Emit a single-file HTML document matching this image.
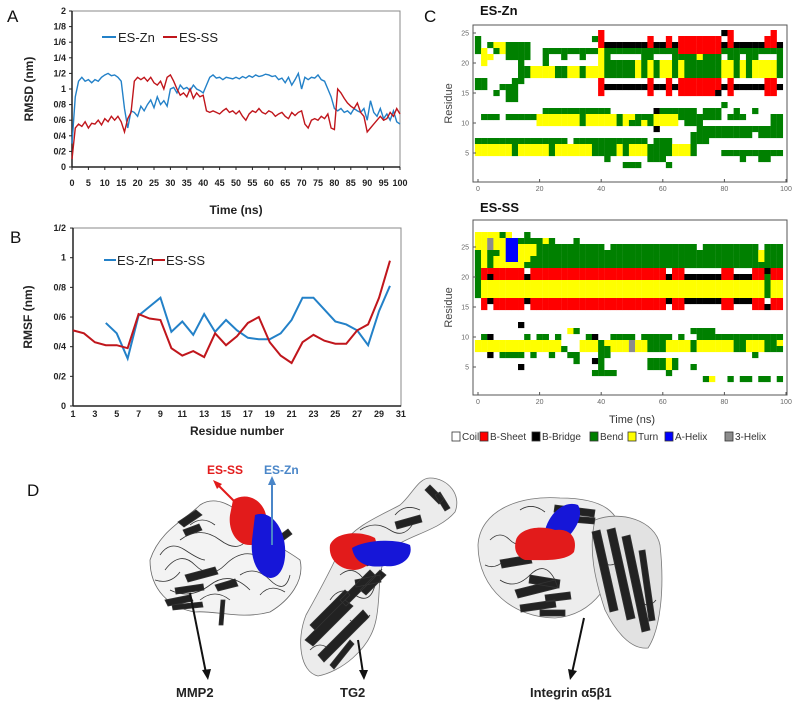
<!DOCTYPE html>
<html><head><meta charset="utf-8">
<style>
html,body{margin:0;padding:0;background:#fff;}
svg{display:block;font-family:"Liberation Sans",sans-serif;}
.tk{font-size:9px;font-weight:bold;fill:#222;}
.tc{font-size:7px;fill:#666;}
.ttl{font-size:12px;font-weight:bold;fill:#222;}
.pl{font-size:17px;fill:#111;}
</style></head>
<body>
<svg id="fig" width="796" height="704" viewBox="0 0 796 704" xmlns="http://www.w3.org/2000/svg">
<rect width="796" height="704" fill="#fff"/>
<text class="pl" x="7" y="22">A</text>
<text class="pl" x="10" y="243">B</text>
<text class="pl" x="424" y="22">C</text>
<text class="pl" x="27" y="496">D</text>

<g id="pa"></g>
<g id="pb"></g>
<g id="pc"></g>

<g id="pd">
  <!-- MMP2 -->
  <g fill="none" stroke="#333" stroke-width="0.8">
    <path d="M150 560 C160 530 185 520 200 505 C215 495 235 505 245 520 C260 540 280 545 300 560 C305 580 290 600 270 612 C240 620 215 610 195 612 C170 608 150 590 150 560Z" fill="#f3f3f3" stroke="#666"/>
    <path d="M165 570 q15 -20 30 -5 t30 0 t30 -10 M170 590 q20 10 40 -5 t40 5 M180 540 q20 -15 40 0 t30 -5 M200 600 q15 -12 30 0 M160 555 q10 -15 25 -5 t20 10 M190 525 q12 -10 25 0 M240 575 q15 -10 30 5 t20 -5 M155 580 q15 5 25 -8 M260 595 q10 -12 25 -3" />
    <path d="M178 522 l18 -12 l6 5 l-18 12z M183 530 l16 -6 l3 6 l-16 6z M185 575 l30 -8 l3 7 l-30 8z M165 600 l25 -5 l3 6 l-25 5z M215 585 l20 -6 l3 7 l-20 5z M175 588 l28 -4 l1 6 l-28 4z M172 605 l30 -3 l1 5 l-30 3z M280 535 l8 -6 l4 5 l-8 6z M225 600 l-2 25 l-4 0 l2 -25z" fill="#222"/>
  </g>
  <path d="M233 500 C245 492 262 498 266 515 C270 530 262 545 250 545 C236 545 228 530 230 515Z" fill="#e21b1b"/>
  <path d="M255 515 C268 510 280 522 284 540 C288 560 282 578 270 578 C258 576 250 560 252 540Z" fill="#1616d8"/>
  <line x1="236" y1="503" x2="217" y2="484" stroke="#e21b1b" stroke-width="2"/>
  <polygon points="213,480 222,484 217,489" fill="#e21b1b"/>
  <line x1="272" y1="545" x2="272" y2="483" stroke="#4a86c8" stroke-width="2"/>
  <polygon points="272,476 268,485 276,485" fill="#4a86c8"/>
  <text x="207" y="474" font-size="12" font-weight="bold" fill="#e21b1b">ES-SS</text>
  <text x="264" y="474" font-size="12" font-weight="bold" fill="#4a86c8">ES-Zn</text>
  <!-- TG2 -->
  <g stroke="#333" stroke-width="0.8" fill="none">
    <path d="M430 478 C448 478 462 495 455 512 C440 530 410 535 392 548 C375 565 382 592 376 620 C370 650 340 672 318 676 C300 672 296 640 306 615 C320 590 332 568 342 545 C355 525 382 515 400 505 C412 495 418 478 430 478Z" fill="#ececec" stroke="#777"/>
    <path d="M330 600 q10 -15 25 -5 t20 -10 M340 575 q12 -10 22 2 t20 -8 M310 650 q10 -10 20 0 M360 530 q15 -10 30 0 t25 -10 M395 515 q10 -12 25 -5 M350 620 q10 10 20 -5" />
    <path d="M305 640 l40 -40 l8 6 l-40 40z M318 655 l45 -45 l6 7 l-45 45z M340 600 l30 -30 l6 6 l-30 30z M360 590 l20 -20 l6 5 l-20 20z M430 485 l14 14 l-5 5 l-14 -14z M440 492 l10 16 l-5 3 l-10 -16z M395 522 l25 -7 l2 7 l-25 7z M310 625 l35 -35 l5 5 l-35 35z M355 580 l25 -5 l1 7 l-25 5z M365 560 l20 -8 l2 6 l-20 8z M330 665 l20 -25 l4 4 l-20 25z" fill="#222"/>
  </g>
  <path d="M330 545 C335 532 360 530 375 538 C380 552 372 568 355 570 C340 570 328 560 330 545Z" fill="#e21b1b"/>
  <path d="M352 548 C365 540 395 538 410 545 C414 558 400 568 385 566 C370 568 355 565 352 548Z" fill="#1616d8"/>
  <line x1="358" y1="640" x2="363" y2="673" stroke="#111" stroke-width="2"/>
  <polygon points="364,680 359,670 368,670" fill="#111"/>
  <!-- Integrin -->
  <g stroke="#333" stroke-width="0.8" fill="none">
    <path d="M478 545 C480 510 520 495 560 498 C600 498 625 510 620 545 C615 580 595 615 555 618 C515 618 478 590 478 545Z" fill="#ededed" stroke="#777"/>
    <path d="M595 520 C620 510 655 520 660 545 C665 590 660 630 648 648 C630 650 615 630 605 610 C595 580 588 550 595 520Z" fill="#e2e2e2" stroke="#777"/>
    <path d="M490 540 q10 -10 20 0 t20 -5 M500 580 q15 10 30 -5 t25 5 M485 565 q10 5 20 -5 M600 560 q10 10 20 0 M640 600 q8 10 16 0 M520 510 q12 -8 25 2" />
    <path d="M555 505 l40 5 l-1 7 l-40 -5z M560 515 l35 3 l-1 6 l-35 -3z M515 590 l40 -10 l3 8 l-40 10z M520 605 l35 -5 l1 7 l-35 5z M600 530 l18 80 l-8 2 l-18 -80z M615 528 l20 90 l-8 2 l-20 -90z M630 535 l20 95 l-8 2 l-20 -95z M645 550 l10 70 l-6 1 l-10 -70z M500 560 l30 -5 l2 8 l-30 5z M530 575 l30 5 l-1 8 l-30 -5z M545 595 l25 -3 l1 7 l-25 3z M540 610 l25 0 l0 6 l-25 0z" fill="#222"/>
  </g>
  <path d="M545 530 C550 512 565 500 578 505 C584 515 576 530 565 540 C556 548 544 545 545 530Z" fill="#1616d8"/>
  <path d="M516 540 C520 528 540 525 555 530 C570 528 578 538 574 552 C566 562 540 560 525 560 C515 556 514 548 516 540Z" fill="#e21b1b"/>
  <line x1="584" y1="618" x2="572" y2="673" stroke="#111" stroke-width="2"/>
  <polygon points="570,680 568,669 577,671" fill="#111"/>
  <line x1="190" y1="593" x2="206" y2="673" stroke="#111" stroke-width="2"/>
  <polygon points="208,680 202,670 211,669" fill="#111"/>
  <text x="176" y="697" font-size="13" font-weight="bold" fill="#222">MMP2</text>
  <text x="340" y="697" font-size="13" font-weight="bold" fill="#222">TG2</text>
  <text x="530" y="697" font-size="13" font-weight="bold" fill="#222">Integrin α5β1</text>
</g>
</svg>
<script>
// ---------- Panel A data ----------
const rmsdTimes = [];
for (let i = 0; i <= 100; i++) rmsdTimes.push(i);
const rmsdZn = [0.3,0.9,1.1,1.15,1.1,1.12,1.08,1.12,1.1,1.15,1.18,1.2,1.17,1.18,1.15,1.1,0.75,0.5,0.72,0.7,0.65,0.78,0.72,0.8,0.86,0.76,0.9,0.8,0.85,0.78,1.0,1.02,0.95,1.05,1.0,1.02,0.98,1.05,1.0,0.98,0.95,1.05,1.15,1.18,1.14,1.15,1.12,1.15,1.14,1.13,1.15,1.13,1.16,1.14,1.17,1.15,1.18,1.16,1.17,1.19,1.18,1.16,1.17,1.12,1.14,1.08,1.15,1.05,1.12,1.2,1.0,1.15,1.12,1.15,1.14,1.18,1.12,1.1,1.0,0.9,0.75,0.72,0.75,0.7,0.72,0.68,0.75,0.72,0.7,0.75,0.6,0.85,0.7,0.65,0.75,0.62,0.68,0.6,0.72,0.58,0.55];
const rmsdSS = [0.1,0.5,0.55,0.52,0.58,0.5,0.56,0.55,0.6,0.54,0.62,0.58,0.65,0.6,0.65,0.58,0.45,0.62,0.7,1.1,1.15,1.12,1.15,1.1,1.15,1.08,1.05,1.1,1.0,1.15,1.18,1.1,1.0,0.92,0.95,0.9,1.0,0.88,0.95,0.9,0.92,0.72,0.7,0.72,0.7,0.68,0.72,0.75,0.7,0.72,0.68,0.72,0.65,0.6,0.68,0.72,0.7,0.75,0.7,0.68,0.72,0.7,0.65,0.68,0.7,0.65,0.62,0.7,0.66,0.7,0.72,0.55,0.5,0.6,0.62,0.6,0.65,0.62,0.68,0.5,0.48,1.0,0.95,0.88,0.82,0.78,0.75,0.82,0.7,0.65,0.45,0.5,0.55,0.6,0.65,0.6,0.62,0.7,0.65,0.75,0.68];
const rmsdYLabels = ["0","0/2","0/4","0/6","0/8","1","1/2","1/4","1/6","1/8","2"];
const rmsdXLabels = ["0","5","10","15","20","25","30","35","40","45","50","55","60","65","70","75","80","85","90","95","100"];
// ---------- Panel B data ----------
const rmsfResZn = [4,5,6,7,8,9,10,11,12,13,14,15,16,17,18,19,20,21,22,23,24,25,26,27,28,29,30];
const rmsfZn = [0.56,0.49,0.32,0.61,0.67,0.73,0.50,0.57,0.48,0.62,0.50,0.58,0.51,0.46,0.45,0.45,0.49,0.58,0.73,0.73,0.65,0.57,0.55,0.51,0.41,0.64,0.81];
const rmsfResSS = [1,2,3,4,5,6,7,8,9,10,11,12,13,14,15,16,17,18,19,20,21,22,23,24,25,26,27,28,29,30];
const rmsfSS = [0.51,0.49,0.43,0.41,0.41,0.39,0.62,0.59,0.58,0.39,0.34,0.37,0.33,0.49,0.41,0.47,0.56,0.60,0.43,0.34,0.29,0.43,0.48,0.44,0.42,0.42,0.51,0.55,0.73,0.98];
const rmsfYLabels = ["0","0/2","0/4","0/6","0/8","1","1/2"];
const rmsfXLabels = ["1","3","5","7","9","11","13","15","17","19","21","23","25","27","29","31"];
// ---------- Panel C data (run-length rows, 2 ns per column) ----------
const dsspZnRes = [25,24,23,22,21,20,19,18,17,16,15,14,13,12,11,10,9,8,7,6,5,4,3];
const dsspZnRows = [
"20C1E19C1B1E6C1E1C",
"1S18C1S1E7C1E2C1E1C7E1C1E5C2E1C",
"1S1C1S2T4S11C1E7B1E2B1E1B7E1B1E5B2E1B",
"1S1T1C1S1T4S2C9S1T12S7E10S",
"1C2T2C4S2C1S2C1S2C1S2C1T1S5C2S3C4S1T3S1C2S1C2S3C1S",
"1C1T5C1S3C1S8C1T5S1T1S1T1S2T1S1T1S5S2T1S1T1S1T3T1S",
"7C2S4T2S2T1S2T1T5S1T1S1T1S2T1S1T1S5S2T1S1T1S1T3T1S",
"7C2S4T2S2T1S2T1T5S1T1S1T1S2T1S1T1S5S2T1S1T1S1T3T1S",
"2S4C2S12C1E7C1E2C1E1C7E1C1E5C2E1C",
"2S2C3S13C1E7B1E2B1E1B7E1B1E5B2E1B",
"3C1S1C2S13C1E7C1E2C1E1C6E1B1C1E5C2E1C",
"5C2S43C",
"40C1S9C",
"11C11S7C1B6S1C3S2C1S2C1S4C",
"1C3S1C5S7T1S5T1S2T1S2S4T7S1C3S4C2S",
"10C7T1S5T1S1T2S1T1S4T1C2S1S11C2S",
"29C1B6C14S",
"35C10S1C4S",
"15S1C12S1C3S3C3S12C",
"6T1S5T1S6T4S1T1S3T4S3T1S14C",
"6T1S5T1S6T4S1T1S3T4S3T1S4C10S",
"21C1S6C3S12C1S2C2S2C",
"24C3S4C1S18C"];
const dsspSSRes = [27,26,25,24,23,22,21,20,19,18,17,16,15,12,11,10,9,8,7,6,5,4,3];
const dsspSSRows = [
"2T2T1S1T2C1S41C",
"2T1G2T2H4S1T1S3C1S33C",
"2T1G2T2H3T11S1C14S1C9S1C3S",
"1S1T2S1T2H3T36S1T3S",
"1S1T1S2T2H2T37S1T3S",
"1S1T1S5T42S",
"1S7E1C22E1C2E6C2E3C2E1B2E",
"1S1E1B5E1B22E1B2E6B2E3B2E1S2E",
"1S46T1S2T",
"1S46T1S2T",
"1S46T1S2T",
"1C1E1B5E1B22E1B2E6B2E3B2E1C2E",
"1C1E1C5E1C22E1C2E6C2E3C2E1B2E",
"7C1B42C",
"15C1T1S18C4S11C",
"1C1S1B5C1S1C2S1C1S4C1S1B2C4S1C5S1C1S2C14S",
"14T3C3T1S4T1G2T3S4T1S6T2S3T2S1T",
"14T1S2C3T2S3T1G2T3S4T1S6T2S3T2S1S",
"2C1B1C4S1C1S2C1S2C2S3C2S23C1S4C",
"16C1S2C1B1S7C3S1T1S17C",
"7C1B12C1S7C3S1T1S2C1S14C",
"19C4S8C1S18C",
"37C1S1T2C1S1C2S1C2S1C1S"];
const dsspTickTimes = [0,20,40,60,80,100];
const dsspTickRes = [5,10,15,20,25];
const dsspLegendNames = ["Coil","B-Sheet","B-Bridge","Bend","Turn","A-Helix","3-Helix"];

const NS = "http://www.w3.org/2000/svg";
function mk(tag, attrs, parent, txt) {
  const e = document.createElementNS(NS, tag);
  for (const k in attrs) e.setAttribute(k, attrs[k]);
  if (txt !== undefined) e.textContent = txt;
  parent.appendChild(e);
  return e;
}
const ZN = "#2381c8", SS = "#c0161c";

// ---------- Panel A ----------
(function(){
  const g = document.getElementById('pa');
  const X = t => 72 + t * 3.28;
  const Y = v => 167 - v * 78;
  const fr = mk('rect', {x:72, y:11, width:328, height:156, fill:'none', stroke:'#888', 'stroke-width':1}, g);
  
  
  mk('line', {x1:72, y1:11, x2:72, y2:167, stroke:'#222', 'stroke-width':1.5}, g);
  mk('line', {x1:72, y1:167, x2:400, y2:167, stroke:'#222', 'stroke-width':1.5}, g);
  rmsdYLabels.forEach((l, i) => {
    const t = mk('text', {class:'tk', x:66, y:Y(i*0.2)+3, 'text-anchor':'end'}, g, l);
    
    
    mk('line', {x1:69, y1:Y(i*0.2), x2:72, y2:Y(i*0.2), stroke:'#222'}, g);
  });
  rmsdXLabels.forEach((l, i) => {
    const t = mk('text', {class:'tk', x:X(i*5), y:186, 'text-anchor':'middle'}, g, l);
    
    
    mk('line', {x1:X(i*5), y1:167, x2:X(i*5), y2:170, stroke:'#222'}, g);
  });
  const yt = mk('text', {class:'ttl', transform:'translate(33,89) rotate(-90)', 'text-anchor':'middle'}, g, 'RMSD (nm)');
  
  
  const xt = mk('text', {class:'ttl', x:236, y:214, 'text-anchor':'middle'}, g, 'Time (ns)');
  
  
  const p1 = mk('polyline', {points: rmsdTimes.map((t,i)=>X(t)+','+Y(rmsdZn[i])).join(' '), fill:'none', stroke:ZN, 'stroke-width':1.4}, g);
  
  
  const p2 = mk('polyline', {points: rmsdTimes.map((t,i)=>X(t)+','+Y(rmsdSS[i])).join(' '), fill:'none', stroke:SS, 'stroke-width':1.4}, g);
  
  
  mk('line', {x1:102, y1:37, x2:116, y2:37, stroke:ZN, 'stroke-width':2}, g);
  const l1 = mk('text', {x:118, y:42, 'font-size':13, fill:'#222'}, g, 'ES-Zn');
  
  
  mk('line', {x1:163, y1:37, x2:177, y2:37, stroke:SS, 'stroke-width':2}, g);
  const l2 = mk('text', {x:179, y:42, 'font-size':13, fill:'#222'}, g, 'ES-SS');
  
  
})();

// ---------- Panel B ----------
(function(){
  const g = document.getElementById('pb');
  const X = r => 73 + (r - 1) * 10.93;
  const Y = v => 406 - v * 148.3;
  const fr = mk('rect', {x:73, y:228, width:328, height:178, fill:'none', stroke:'#888', 'stroke-width':1}, g);
  
  
  mk('line', {x1:73, y1:228, x2:73, y2:406, stroke:'#222', 'stroke-width':1.5}, g);
  mk('line', {x1:73, y1:406, x2:401, y2:406, stroke:'#222', 'stroke-width':1.5}, g);
  rmsfYLabels.forEach((l, i) => {
    const t = mk('text', {class:'tk', x:66, y:Y(i*0.2)+3, 'text-anchor':'end'}, g, l);
    
    
    mk('line', {x1:70, y1:Y(i*0.2), x2:73, y2:Y(i*0.2), stroke:'#222'}, g);
  });
  rmsfXLabels.forEach((l) => {
    const t = mk('text', {class:'tk', x:X(+l), y:417, 'text-anchor':'middle'}, g, l);
    
    
  });
  const yt = mk('text', {class:'ttl', transform:'translate(32,317) rotate(-90)', 'text-anchor':'middle'}, g, 'RMSF (nm)');
  
  
  const xt = mk('text', {class:'ttl', x:237, y:435, 'text-anchor':'middle'}, g, 'Residue number');
  
  
  const p1 = mk('polyline', {points: rmsfResZn.map((r,i)=>X(r)+','+Y(rmsfZn[i])).join(' '), fill:'none', stroke:ZN, 'stroke-width':2}, g);
  
  
  const p2 = mk('polyline', {points: rmsfResSS.map((r,i)=>X(r)+','+Y(rmsfSS[i])).join(' '), fill:'none', stroke:SS, 'stroke-width':2}, g);
  
  
  mk('line', {x1:104, y1:260, x2:116, y2:260, stroke:ZN, 'stroke-width':2}, g);
  const l1 = mk('text', {x:117, y:265, 'font-size':13, fill:'#222'}, g, 'ES-Zn');
  
  
  mk('line', {x1:153, y1:260, x2:165, y2:260, stroke:SS, 'stroke-width':2}, g);
  const l2 = mk('text', {x:166, y:265, 'font-size':13, fill:'#222'}, g, 'ES-SS');
  
  
})();

// ---------- Panel C ----------
const colors = {C:'#ffffff', E:'#ff0000', B:'#000000', S:'#008000', T:'#ffff00', H:'#0000ff', G:'#8c8c8c'};
function decode(s) {
  const out = []; const re = /(\d+)([A-Z])/g; let m;
  while ((m = re.exec(s))) for (let i = 0; i < +m[1]; i++) out.push(m[2]);
  return out;
}
function heat(g, top, bottom, y25, resList, rows, title, titleY, name) {
  const X = t => 478 + t * 3.08;
  const Y = r => y25 + (25 - r) * 6;
  const tt = mk('text', {x:480, y:titleY, 'font-size':13, 'font-weight':'bold', fill:'#111'}, g, title);
  
  
  rows.forEach((row, ri) => {
    const r = resList[ri];
    decode(row).forEach((c, ci) => {
      if (c === 'C') return;
      const rc = mk('rect', {x:X(ci*2)-3.1, y:Y(r)-3, width:6.3, height:6.1, fill:colors[c]}, g);
      
      
    });
  });
  const fr = mk('rect', {x:473, y:top, width:314, height:bottom-top, fill:'none', stroke:'#555', 'stroke-width':1}, g);
  
  
  dsspTickTimes.forEach(t => {
    const tx = mk('text', {class:'tc', x:X(t), y:bottom+9, 'text-anchor':'middle'}, g, String(t));
    
    
    mk('line', {x1:X(t), y1:bottom, x2:X(t), y2:bottom-3, stroke:'#555'}, g);
  });
  dsspTickRes.forEach(r => {
    const tx = mk('text', {class:'tc', x:469, y:Y(r)+2.5, 'text-anchor':'end'}, g, String(r));
    
    
    mk('line', {x1:473, y1:Y(r), x2:476, y2:Y(r), stroke:'#555'}, g);
  });
  const yl = mk('text', {transform:'translate(452,' + ((top+bottom)/2) + ') rotate(-90)', 'font-size':11, fill:'#444', 'text-anchor':'middle'}, g, 'Residue');
  
  
}
(function(){
  const g = document.getElementById('pc');
  heat(g, 25, 182, 33, dsspZnRes, dsspZnRows, 'ES-Zn', 15, 'dssp-es-zn');
  heat(g, 220, 395, 247, dsspSSRes, dsspSSRows, 'ES-SS', 212, 'dssp-es-ss');
  const xt = mk('text', {x:632, y:423, 'font-size':11, fill:'#333', 'text-anchor':'middle'}, g, 'Time (ns)');
  
  
  const keys = ['C','E','B','S','T','H','G'];
  const boxX = [452,480,532,590,628,665,725];
  dsspLegendNames.forEach((n, i) => {
    mk('rect', {x:boxX[i], y:432, width:8, height:9, fill:colors[keys[i]], stroke:'#333', 'stroke-width':0.8}, g);
    const t = mk('text', {x:boxX[i]+10, y:440, 'font-size':10, fill:'#333'}, g, n);
    
    
  });
})();
</script>
</body></html>
